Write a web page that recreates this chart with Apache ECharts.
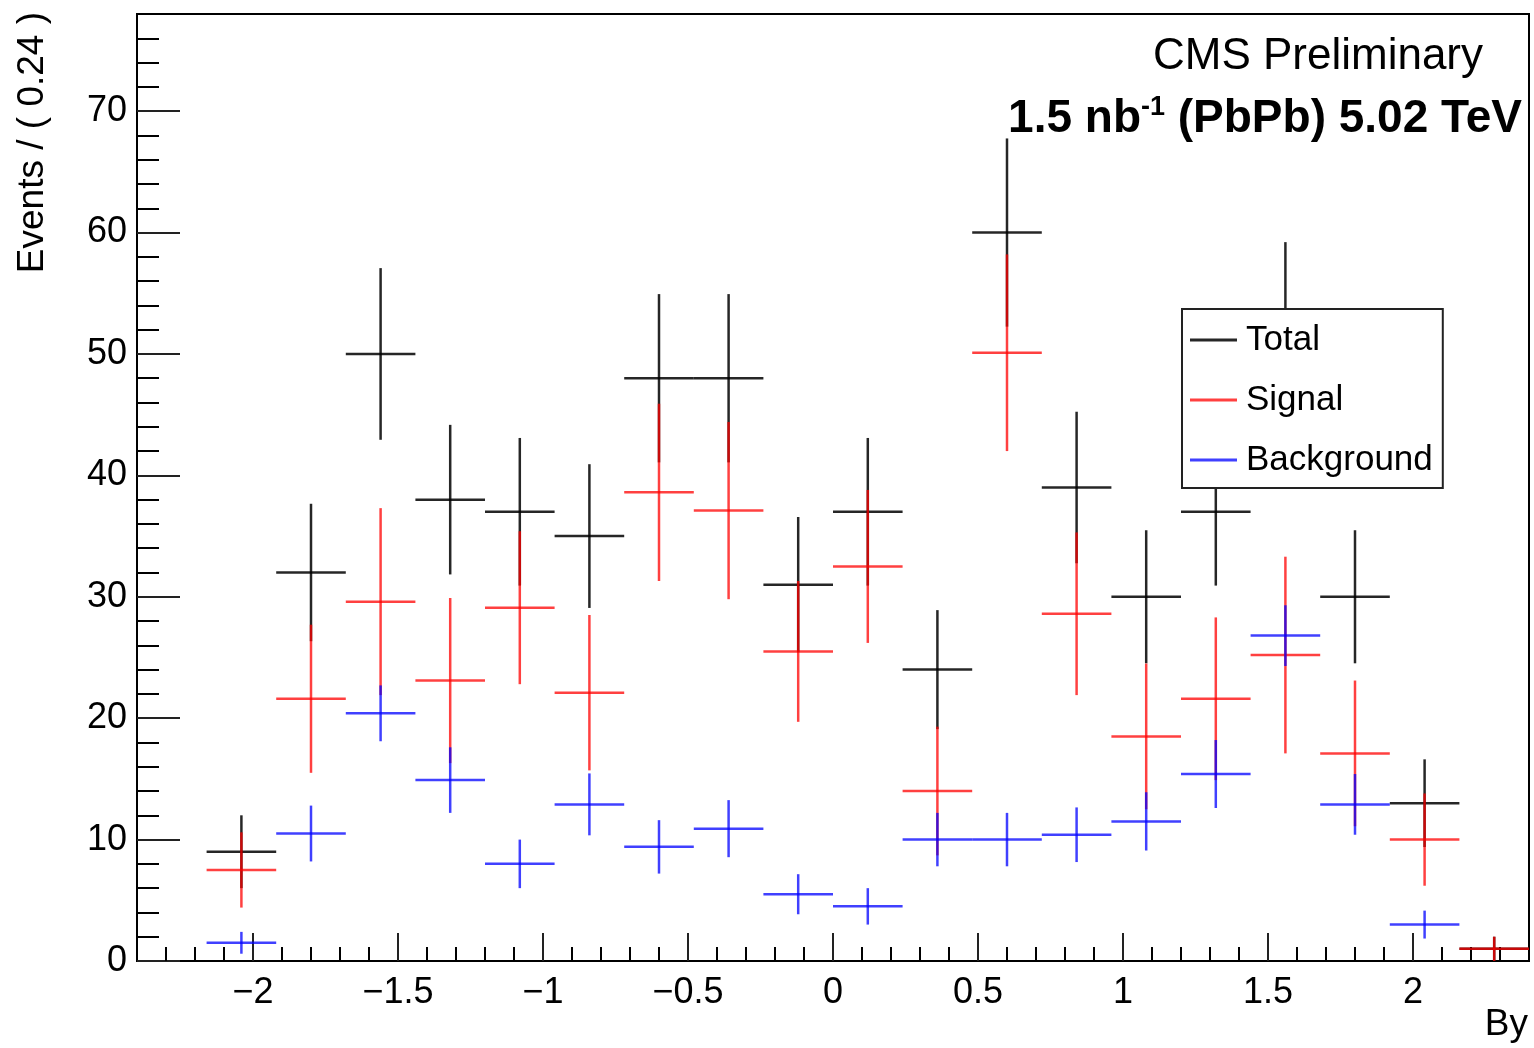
<!DOCTYPE html>
<html><head><meta charset="utf-8">
<script src="https://cdn.jsdelivr.net/npm/echarts@6/dist/echarts.min.js"></script>
<style>html,body{margin:0;padding:0;background:#fff}#c{width:1534px;height:1048px}</style>
</head><body><div id="c"></div>
<script>
// ---- data ----
const binWidth = 0.24;
const binCenters = [-2.04, -1.80, -1.56, -1.32, -1.08, -0.84, -0.60, -0.36, -0.12, 0.12, 0.36, 0.60, 0.84, 1.08, 1.32, 1.56, 1.80, 2.04, 2.28];
const totalValues = [9, 32, 50, 38, 37, 35, 48, 48, 31, 37, 24, 60, 39, 30, 37, 52, 30, 13, 1];
const totalErrors = [3.0, 5.66, 7.07, 6.16, 6.08, 5.92, 6.93, 6.93, 5.57, 6.08, 4.9, 7.75, 6.24, 5.48, 6.08, 7.21, 5.48, 3.61, 1.0];
const signalValues = [7.5, 21.6, 29.6, 23.1, 29.1, 22.1, 38.6, 37.1, 25.5, 32.5, 14.0, 50.1, 28.6, 18.5, 21.6, 25.2, 17.1, 10.0, 1.0];
const signalErrors = [3.1, 6.1, 7.7, 6.8, 6.3, 6.4, 7.3, 7.3, 5.8, 6.3, 5.3, 8.1, 6.7, 6.0, 6.7, 8.1, 6.0, 3.8, 1.0];
const backgroundValues = [1.5, 10.5, 20.4, 14.9, 8.0, 12.9, 9.4, 10.9, 5.5, 4.5, 10.0, 10.0, 10.4, 11.5, 15.4, 26.8, 12.9, 3.0, null];
const backgroundErrors = [0.9, 2.3, 2.3, 2.7, 2.0, 2.55, 2.2, 2.35, 1.65, 1.5, 2.2, 2.2, 2.25, 2.4, 2.8, 2.5, 2.5, 1.15, null];
const seriesNames = ['Total', 'Signal', 'Background'];
const xTickValues = [-2, -1.5, -1, -0.5, 0, 0.5, 1, 1.5, 2];
const yTickValues = [0, 10, 20, 30, 40, 50, 60, 70];
const xRange = [-2.4, 2.4];
const yRange = [0, 78];

// minor tick positions (axis decoration)
const xMinorTicks = [];
for (let i = -23; i <= 23; i++) { if (i % 5 !== 0) xMinorTicks.push(i / 10); }
const yMinorTicks = [];
for (let i = 2; i <= 76; i += 2) { if (i % 10 !== 0) yMinorTicks.push(i); }

const FONT = '"Liberation Sans", Arial, Helvetica, sans-serif';

function toData(vals, errs) {
  const out = [];
  vals.forEach((v, i) => { if (v !== null) out.push([binCenters[i], v, errs[i]]); });
  return out;
}
function makeRender(color) {
  return function (params, api) {
    const x = api.value(0), y = api.value(1), e = api.value(2);
    const a = api.coord([x - binWidth / 2, y]), b = api.coord([x + binWidth / 2, y]);
    const t = api.coord([x, y + e]), d = api.coord([x, y - e]);
    const style = { stroke: color, lineWidth: 2.5 };
    return { type: 'group', children: [
      { type: 'line', shape: { x1: a[0], y1: a[1], x2: b[0], y2: b[1] }, style: style },
      { type: 'line', shape: { x1: t[0], y1: t[1], x2: d[0], y2: d[1] }, style: style }
    ] };
  };
}
const colors = ['rgba(0,0,0,0.85)', 'rgba(255,0,0,0.75)', 'rgba(0,0,255,0.75)'];
const datasets = [toData(totalValues, totalErrors), toData(signalValues, signalErrors), toData(backgroundValues, backgroundErrors)];

const chart = echarts.init(document.getElementById('c'), null, { renderer: 'canvas' });
const minus = v => String(v).replace('-', '\u2212');
chart.setOption({
  animation: false,
  backgroundColor: '#fff',
  grid: { left: 137, top: 14, right: 5, bottom: 87, show: true, borderColor: '#000', borderWidth: 2, backgroundColor: 'transparent', containLabel: false, outerBoundsMode: 'none' },
  xAxis: [
    { type: 'value', min: xRange[0], max: xRange[1], position: 'bottom',
      axisLine: { show: true, onZero: false, lineStyle: { color: '#000', width: 2 } },
      axisTick: { show: true, inside: true, length: 28, customValues: xTickValues, lineStyle: { color: '#222', width: 2 } },
      axisLabel: { show: true, customValues: xTickValues, formatter: minus, fontSize: 36, fontFamily: FONT, color: '#000', margin: 14 },
      splitLine: { show: false } },
    { type: 'value', min: xRange[0], max: xRange[1], position: 'bottom', offset: 0,
      axisLine: { show: false, onZero: false },
      axisTick: { show: true, inside: true, length: 14, customValues: xMinorTicks, lineStyle: { color: '#000', width: 2 } },
      axisLabel: { show: false }, splitLine: { show: false } }
  ],
  yAxis: [
    { type: 'value', min: yRange[0], max: yRange[1], position: 'left',
      axisLine: { show: true, onZero: false, lineStyle: { color: '#000', width: 2 } },
      axisTick: { show: true, inside: true, length: 43, customValues: yTickValues, lineStyle: { color: '#222', width: 2 } },
      axisLabel: { show: true, customValues: yTickValues, fontSize: 36, fontFamily: FONT, color: '#000', margin: 10 },
      splitLine: { show: false } },
    { type: 'value', min: yRange[0], max: yRange[1], position: 'left', offset: 0,
      axisLine: { show: false, onZero: false },
      axisTick: { show: true, inside: true, length: 22, customValues: yMinorTicks, lineStyle: { color: '#000', width: 2 } },
      axisLabel: { show: false }, splitLine: { show: false } }
  ],
  legend: {
    data: seriesNames, orient: 'vertical', left: 1182, top: 309,
    icon: 'rect', itemWidth: 47, itemHeight: 3, itemGap: 20,
    padding: [11, 10, 8, 8], borderColor: '#222', borderWidth: 2, backgroundColor: '#fff',
    selectedMode: false,
    textStyle: { fontSize: 35, fontFamily: FONT, color: '#000', lineHeight: 40, padding: [0, 0, 0, 4] }
  },
  series: seriesNames.map((n, i) => ({
    name: n, type: 'custom', xAxisIndex: 0, yAxisIndex: 0, clip: true,
    itemStyle: { color: colors[i] },
    renderItem: makeRender(colors[i]),
    encode: { x: 0, y: 1 },
    data: datasets[i], z: 2 + i
  })),
  graphic: [
    { type: 'text', x: 33, y: 12, rotation: Math.PI / 2,
      style: { text: 'Events / ( 0.24 )', fontSize: 37, fontFamily: FONT, fill: '#000', align: 'right', verticalAlign: 'middle' } },
    { type: 'text', x: 1528, y: 1025,
      style: { text: 'By', fontSize: 37, fontFamily: FONT, fill: '#000', align: 'right', verticalAlign: 'middle' } },
    { type: 'text', x: 1483, y: 57,
      style: { text: 'CMS Preliminary', fontSize: 44, fontFamily: FONT, fill: '#000', align: 'right', verticalAlign: 'middle' } },
    { type: 'text', x: 1522, y: 119,
      style: { text: '{a|1.5 nb}{s|-1}{a| (PbPb) 5.02 TeV}', fill: '#000', align: 'right', verticalAlign: 'middle',
        rich: { a: { fontSize: 46, fontWeight: 'bold', fontFamily: FONT, fill: '#000' },
                s: { fontSize: 27, fontWeight: 'bold', fontFamily: FONT, fill: '#000', padding: [0, 0, 22, 0] } } } }
  ]
});
</script>
</body></html>
